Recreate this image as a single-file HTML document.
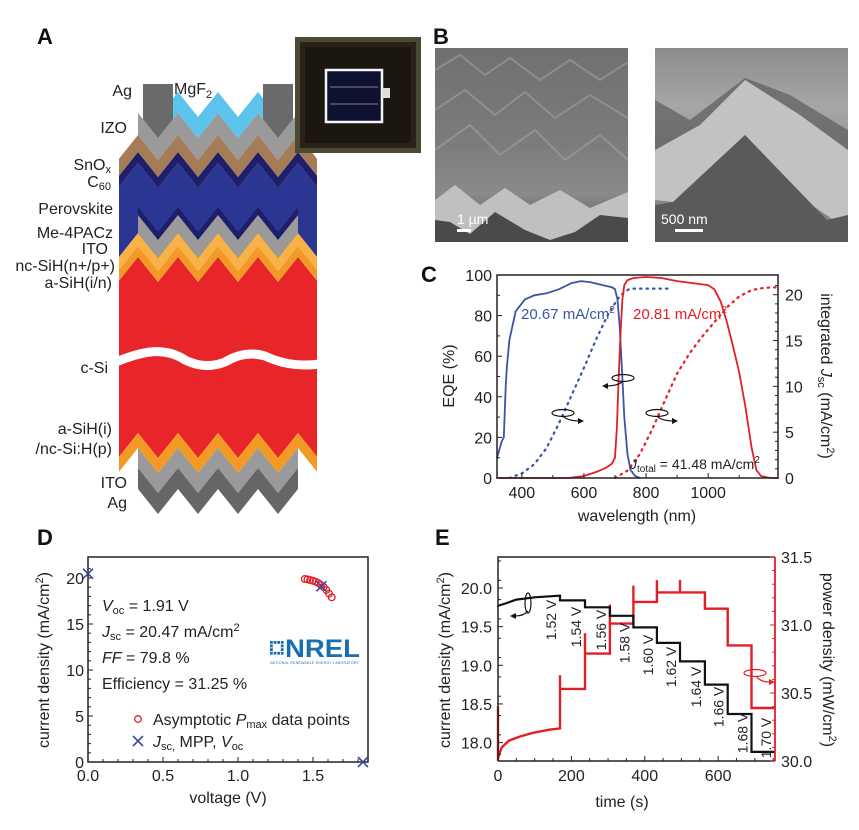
<!DOCTYPE html>
<html><head><meta charset="utf-8"><style>
html,body{margin:0;padding:0;background:#fff}
svg{display:block;font-family:"Liberation Sans",sans-serif}
.lbl{font-size:16px;fill:#222}
.pl{font-size:22px;font-weight:bold;fill:#111}
</style></head><body>
<svg id="fig" width="859" height="830" viewBox="0 0 859 830">
<rect width="859" height="830" fill="#fff"/>
<text class="pl" x="37" y="44">A</text>
<text class="pl" x="433" y="44">B</text>
<text class="pl" x="421" y="282">C</text>
<text class="pl" x="37" y="545">D</text>
<text class="pl" x="435" y="545">E</text>

<g id="stack"></g>
<g id="stacklabels" font-size="16" fill="#222" text-anchor="end">
<text x="132" y="96">Ag</text>
<text x="174" y="94" text-anchor="start">MgF<tspan font-size="11" dy="4">2</tspan></text>
<text x="127" y="133">IZO</text>
<text x="111" y="170">SnO<tspan font-size="11" dy="3">x</tspan></text>
<text x="111" y="187">C<tspan font-size="11" dy="3">60</tspan></text>
<text x="113" y="214">Perovskite</text>
<text x="113" y="238">Me-4PACz</text>
<text x="108" y="254">ITO</text>
<text x="115" y="271">nc-SiH(n+/p+)</text>
<text x="112" y="288">a-SiH(i/n)</text>
<text x="108" y="373">c-Si</text>
<text x="112" y="434">a-SiH(i)</text>
<text x="112" y="454">/nc-Si:H(p)</text>
<text x="127" y="488">ITO</text>
<text x="127" y="508">Ag</text>
</g>
<g>
<rect x="295" y="37" width="126" height="116" fill="#4a4a36"/>
<rect x="300" y="42" width="116" height="106" fill="#2a2216"/>
<rect x="305" y="47" width="106" height="96" fill="#1c1610"/>
<rect x="326" y="70" width="56" height="52" fill="#0e1230" stroke="#f4f4f4" stroke-width="2.5"/>
<line x1="330" y1="87" x2="378" y2="87" stroke="#7d8090" stroke-width="1"/>
<line x1="330" y1="104" x2="378" y2="104" stroke="#7d8090" stroke-width="1"/>
<rect x="382" y="88" width="8" height="10" fill="#ddd"/>
</g>

<defs>
<linearGradient id="sem1" x1="0" y1="0" x2="0" y2="1"><stop offset="0" stop-color="#707070"/><stop offset="0.5" stop-color="#7c7c7c"/><stop offset="0.75" stop-color="#8a8a8a"/><stop offset="1" stop-color="#555"/></linearGradient>
<linearGradient id="sem2" x1="0" y1="0" x2="0" y2="1"><stop offset="0" stop-color="#8c8c8c"/><stop offset="0.3" stop-color="#a6a6a6"/><stop offset="1" stop-color="#7a7a7a"/></linearGradient>
</defs>
<g>
<rect x="435" y="48" width="193" height="194" fill="url(#sem1)"/>
<path d="M435 70 L460 55 L485 75 L510 58 L540 80 L570 60 L600 80 L628 62 M435 110 L465 90 L495 115 L525 92 L555 118 L590 95 L628 118 M435 150 L470 125 L500 155 L535 130 L565 160 L600 135 L628 160" stroke="#a8a8a8" stroke-width="2" fill="none" opacity="0.5"/>
<path d="M435 200 L455 185 L480 205 L505 188 L530 205 L560 190 L590 208 L628 192 L628 242 L435 242 Z" fill="#c0c0c0"/>
<path d="M435 220 L450 222 L470 234 L495 212 L525 230 L550 240 L575 232 L600 215 L628 218 L628 242 L435 242 Z" fill="#4a4a4a"/>
<rect x="457" y="229" width="14" height="3" fill="#fff"/>
<text x="457" y="224" font-size="14" fill="#fff">1 µm</text>
</g>
<g>
<rect x="655" y="48" width="193" height="194" fill="url(#sem2)"/>
<path d="M655 100 L690 120 L745 78 L790 95 L848 130 L848 180 L820 150 L790 135 L745 115 L700 150 L655 160 Z" fill="#5c5c5c" opacity="0.7"/>
<path d="M655 150 L700 125 L745 80 L800 115 L848 150 L848 230 L790 190 L745 135 L673 202 L655 200 Z" fill="#c2c2c2"/>
<path d="M655 205 L673 202 L745 135 L827 220 L848 215 L848 242 L655 242 Z" fill="#5a5a5a"/>
<rect x="675" y="229" width="28" height="3" fill="#fff"/>
<text x="661" y="224" font-size="14" fill="#fff">500 nm</text>
</g>

<g id="panelC"></g>
<g id="panelD"></g>
<g id="panelE"></g>
</svg>
<script>
const NS='http://www.w3.org/2000/svg';
function mk(parent,tag,attrs,text){const e=document.createElementNS(NS,tag);for(const k in attrs)e.setAttribute(k,attrs[k]);if(text!==undefined)e.textContent=text;parent.appendChild(e);return e;}

(function(){
const g=document.getElementById('stack');
function zig(x,base){let d=((x-138)%40+40)%40;let dist=Math.min(d,40-d);return base+25*dist/20;}
function xs(x0,x1){const a=[x0];for(let x=Math.ceil((x0+1)/20)*20-2;x<x1;x+=20){if(x>x0)a.push(x);}a.push(x1);return a;}
function band(x0,x1,t,b,col,name){const X=xs(x0,x1);let p=X.map(x=>x+','+zig(x,t));p=p.concat(X.slice().reverse().map(x=>x+','+zig(x,b)));const e=mk(g,'polygon',{points:p.join(' '),fill:col});

}
band(119,317,257,433,'#e8262a','layer-csi');
band(119,317,163,240,'#2b3592','layer-perovskite');
band(119,317,152,163,'#1e1e6a','layer-c60');
band(119,317,135,152,'#a57c55','layer-snox');
band(138,298,207,215,'#1e1e6a','layer-me4pacz');
band(138,298,215,233,'#9a9a9a','layer-ito-mid');
band(119,317,233,246,'#f9b248','layer-ncsih');
band(119,317,246,257,'#f39a26','layer-asih-in');
band(138,298,113,135,'#9a9a9a','layer-izo');
band(173,263,92,113,'#5cc3ec','layer-mgf2');
band(143,173,60,113,'#6a6a6a','ag-contact-left');
band(263,293,60,113,'#6a6a6a','ag-contact-right');
band(119,317,433,448,'#f39a26','layer-asih-i-ncsi');
band(138,298,448,468,'#9a9a9a','layer-ito-bottom');
band(138,298,468,489,'#666','layer-ag-bottom');
mk(g,'rect',{x:140,y:60,width:36,height:24,fill:'#fff'});
mk(g,'rect',{x:260,y:60,width:36,height:24,fill:'#fff'});
mk(g,'rect',{x:143,y:84,width:30,height:20,rx:4,fill:'#6a6a6a'});
mk(g,'rect',{x:263,y:84,width:30,height:20,rx:4,fill:'#6a6a6a'});
const w=mk(g,'path',{d:'M116 362 Q135 354 150 352 Q170 350 185 360 Q205 370 225 362 Q245 350 265 356 Q290 368 320 364',stroke:'#fff','stroke-width':9,fill:'none'});


})();

const blueWl=[320,335,342,348,352,360,380,410,440,480,520,560,590,620,660,690,700,708,715,722,730,740,750,765,780];
const blueEqe=[10,18,20,45,55,68,82,88,90,91,93,96,97,96.5,95,94,93,88,75,55,30,12,4,1,0];
const blueIntWl=[360,400,440,480,520,560,600,640,680,710,730,745,760,880];
const blueInt=[0,0.5,1.5,3.3,6,9,12,15.2,18,19.6,20.3,20.6,20.67,20.67];
const redWl=[320,550,600,640,670,690,700,706,712,718,724,730,740,760,800,850,900,950,1000,1020,1040,1060,1080,1100,1120,1140,1155,1170,1200,1225];
const redEqe=[0,0,1,3,5,7,10,25,50,72,88,95,97.5,98.5,99,98.5,97,96,95,93,87,77,65,52,35,15,4,1,0,0];
const redIntWl=[700,740,780,820,860,900,940,980,1020,1060,1100,1140,1180,1225];
const redInt=[0,0.8,2.6,5.3,8.4,11.4,13.6,15.4,17,18.6,19.8,20.5,20.75,20.81];
const cXTicks=[400,600,800,1000];
const cYTicks=[0,20,40,60,80,100];
const cY2Ticks=[0,5,10,15,20];

(function(){
const g=document.getElementById('panelC');
const L=497,R=778,T=275,B=478;
const x=v=>L+(v-320)*(R-L)/(1225-320);
const y=v=>B-v*(B-T)/100;
const y2=v=>B-v*(B-T)/22.15;
function line(wl,vals,sc,col,dash,name){const d=wl.map((w,i)=>(i?'L':'M')+x(w).toFixed(1)+' '+sc(vals[i]).toFixed(1)).join(' ');const p=mk(g,'path',{d:d,stroke:col,'stroke-width':dash?2.2:1.8,fill:'none','stroke-dasharray':dash?'1.5 5':'none','stroke-linecap':'round'});

}
line(blueIntWl,blueInt,y2,'#3a55a8',true,'blue-integrated-jsc');
line(redIntWl,redInt,y2,'#e21e26',true,'red-integrated-jsc');
line(blueWl,blueEqe,y,'#3a55a8',false,'blue-eqe-curve');
line(redWl,redEqe,y,'#e21e26',false,'red-eqe-curve');
mk(g,'rect',{x:L,y:T,width:R-L,height:B-T,fill:'none',stroke:'#222','stroke-width':1.5});
cXTicks.forEach(v=>{mk(g,'line',{x1:x(v),x2:x(v),y1:B,y2:B-5,stroke:'#222'});const t=mk(g,'text',{x:x(v),y:498,'text-anchor':'middle',class:'lbl'},v);

});
for(let v=500;v<1225;v+=200)mk(g,'line',{x1:x(v),x2:x(v),y1:B,y2:B-3,stroke:'#222'});
cYTicks.forEach(v=>{mk(g,'line',{x1:L,x2:L+5,y1:y(v),y2:y(v),stroke:'#222'});const t=mk(g,'text',{x:492,y:y(v)+6,'text-anchor':'end',class:'lbl'},v);

});
for(let v=10;v<100;v+=20)mk(g,'line',{x1:L,x2:L+3,y1:y(v),y2:y(v),stroke:'#222'});
cY2Ticks.forEach(v=>{mk(g,'line',{x1:R,x2:R-5,y1:y2(v),y2:y2(v),stroke:'#222'});const t=mk(g,'text',{x:785,y:y2(v)+6,class:'lbl'},v);

});
for(let v=1;v<22;v++)if(v%5)mk(g,'line',{x1:R,x2:R-3,y1:y2(v),y2:y2(v),stroke:'#222'});
let t=mk(g,'text',{x:637,y:521,'text-anchor':'middle',class:'lbl'},'wavelength (nm)');

t=mk(g,'text',{x:0,y:0,'text-anchor':'middle',class:'lbl',transform:'translate(454,376) rotate(-90)'},'EQE (%)');

t=mk(g,'text',{x:0,y:0,'text-anchor':'middle',class:'lbl',transform:'translate(821,376) rotate(90)'});
t.innerHTML='integrated <tspan font-style="italic">J</tspan><tspan font-size="11" dy="3">sc</tspan><tspan dy="-3"> (mA/cm</tspan><tspan font-size="11" dy="-6">2</tspan><tspan dy="6">)</tspan>';

t=mk(g,'text',{x:521,y:319,fill:'#3a55a8','font-size':'15'});t.innerHTML='20.67 mA/cm<tspan font-size="10" dy="-6">2</tspan>';

t=mk(g,'text',{x:633,y:319,fill:'#e21e26','font-size':'15'});t.innerHTML='20.81 mA/cm<tspan font-size="10" dy="-6">2</tspan>';

t=mk(g,'text',{x:630,y:469,fill:'#222','font-size':'14'});t.innerHTML='<tspan font-style="italic">J</tspan><tspan font-size="10" dy="3">total</tspan><tspan dy="-3"> = 41.48 mA/cm</tspan><tspan font-size="10" dy="-6">2</tspan>';

function loop(cx,cy,dir,name){const lg=mk(g,'g',{});


mk(lg,'ellipse',{cx:cx,cy:cy,rx:11,ry:3.5,fill:'none',stroke:'#111','stroke-width':1.2});
const ex=cx+dir*18;mk(lg,'path',{d:`M${cx} ${cy+3} Q${cx+dir*4} ${cy+8} ${ex} ${cy+8}`,stroke:'#111','stroke-width':1.2,fill:'none'});
mk(lg,'polygon',{points:`${ex+dir*3},${cy+8} ${ex-dir*3},${cy+5} ${ex-dir*3},${cy+11}`,fill:'#111'});}
loop(563,413,1,'loop-arrow-blue');loop(623,378,-1,'loop-arrow-center');loop(657,413,1,'loop-arrow-red');
})();

const pmaxV=[1.445,1.463,1.481,1.499,1.517,1.535,1.553,1.571,1.589,1.607,1.625];
const pmaxJ=[19.9,19.85,19.78,19.7,19.6,19.45,19.25,19.02,18.7,18.3,17.9];
const crossV=[0,1.556,1.833];
const crossJ=[20.47,19.1,0];
const dXTicks=[0,0.5,1.0,1.5];
const dYTicks=[0,5,10,15,20];
(function(){
const g=document.getElementById('panelD');
const L=88,R=368,T=557,B=762;
const x=v=>L+v*150;
const y=v=>B-v*9.2;
mk(g,'rect',{x:L,y:T,width:R-L,height:B-T,fill:'none',stroke:'#222','stroke-width':1.5});
dXTicks.forEach(v=>{mk(g,'line',{x1:x(v),x2:x(v),y1:B,y2:B-5,stroke:'#222'});const t=mk(g,'text',{x:x(v),y:781,'text-anchor':'middle',class:'lbl'},v.toFixed(1));
});
for(let v=0.1;v<1.85;v+=0.1)mk(g,'line',{x1:x(v),x2:x(v),y1:B,y2:B-3,stroke:'#222'});
dYTicks.forEach(v=>{mk(g,'line',{x1:L,x2:L+5,y1:y(v),y2:y(v),stroke:'#222'});const t=mk(g,'text',{x:84,y:y(v)+6,'text-anchor':'end',class:'lbl'},v);
});
for(let v=1;v<22;v++)if(v%5)mk(g,'line',{x1:L,x2:L+3,y1:y(v),y2:y(v),stroke:'#222'});
pmaxV.forEach((v,i)=>{const c=mk(g,'circle',{cx:x(v),cy:y(pmaxJ[i]),r:3.3,fill:'none',stroke:'#e21e26','stroke-width':1.3});
});
function cross(cx,cy,name){const p=mk(g,'path',{d:`M${cx-5} ${cy-5}L${cx+5} ${cy+5}M${cx-5} ${cy+5}L${cx+5} ${cy-5}`,stroke:'#3a4aa0','stroke-width':1.6});
}
crossV.forEach((v,i)=>cross(x(v),y(crossJ[i]),'jv-key-point'));
const txt=[['<tspan font-style="italic">V</tspan><tspan font-size="11" dy="3">oc</tspan><tspan dy="-3"> = 1.91 V</tspan>',611,'voc-text'],
['<tspan font-style="italic">J</tspan><tspan font-size="11" dy="3">sc</tspan><tspan dy="-3"> = 20.47 mA/cm</tspan><tspan font-size="11" dy="-6">2</tspan>',637,'jsc-text'],
['<tspan font-style="italic">FF</tspan> = 79.8 %',663,'ff-text'],['Efficiency = 31.25 %',689,'efficiency-text']];
txt.forEach(a=>{const t=mk(g,'text',{x:102,y:a[1],class:'lbl'});t.innerHTML=a[0];
});
mk(g,'circle',{cx:138,cy:719,r:3.3,fill:'none',stroke:'#e21e26','stroke-width':1.3});
let t=mk(g,'text',{x:153,y:725,class:'lbl'});t.innerHTML='Asymptotic <tspan font-style="italic">P</tspan><tspan font-size="11" dy="3">max</tspan><tspan dy="-3"> data points</tspan>';

cross(138,741,'legend-cross-marker');
t=mk(g,'text',{x:153,y:747,class:'lbl'});t.innerHTML='<tspan font-style="italic">J</tspan><tspan font-size="11" dy="3">sc,</tspan><tspan dy="-3"> MPP, </tspan><tspan font-style="italic">V</tspan><tspan font-size="11" dy="3">oc</tspan>';

t=mk(g,'text',{x:228,y:803,'text-anchor':'middle',class:'lbl'},'voltage (V)');

t=mk(g,'text',{x:0,y:0,'text-anchor':'middle',class:'lbl',transform:'translate(49,660) rotate(-90)'});t.innerHTML='current density (mA/cm<tspan font-size="11" dy="-6">2</tspan><tspan dy="6">)</tspan>';

const lg=mk(g,'g',{});
for(let i=0;i<4;i++)for(let j=0;j<4;j++)if(i==0||j==0||i==3||j==3)mk(lg,'rect',{x:270+i*3.6,y:641+j*3.6,width:2.8,height:2.8,fill:'#1a6fb0'});
mk(lg,'text',{x:285,y:657,'font-size':'25','font-weight':'bold',fill:'#1a6fb0',textLength:75,lengthAdjust:'spacingAndGlyphs'},'NREL');
mk(lg,'text',{x:270,y:664,'font-size':'3.5',fill:'#1a6fb0',textLength:89},'NATIONAL RENEWABLE ENERGY LABORATORY');
})();

const stepTimes=[0,169,237,305,369,433,496,564,626,691,755];
const currentLevels=[19.9,19.84,19.75,19.64,19.49,19.29,19.05,18.75,18.37,17.88];
const powerLevels=[30.24,30.53,30.79,31.01,31.17,31.24,31.24,31.12,30.85,30.39];
const powerSpikes=[30.24,30.63,30.94,31.15,31.29,31.33,31.33,31.12,30.85,30.39];
const firstCurT=[0,20,50,100,169];
const firstCurJ=[19.77,19.8,19.85,19.88,19.9];
const firstPowT=[0,10,30,60,100,140,169];
const firstPowP=[30.02,30.1,30.15,30.18,30.21,30.23,30.24];
const stepVoltages=['1.52 V','1.54 V','1.56 V','1.58 V','1.60 V','1.62 V','1.64 V','1.66 V','1.68 V','1.70 V'];
const eXTicks=[0,200,400,600];
const eYTicks=[18.0,18.5,19.0,19.5,20.0];
const eY2Ticks=[30.0,30.5,31.0,31.5];
(function(){
const g=document.getElementById('panelE');
const L=498,R=775,T=557,B=761;
const x=v=>L+v*(R-L)/755;
const y=v=>588-(v-20)*77.3;
const y2=v=>B-(v-30)*136;
let d='M'+x(0)+' '+y2(30.0)+' L'+x(0)+' '+y2(30.4)+' L'+x(0)+' '+y2(firstPowP[0]);
firstPowT.forEach((t,i)=>d+=' L'+x(t).toFixed(1)+' '+y2(firstPowP[i]).toFixed(1));
for(let i=1;i<powerLevels.length;i++){d+=' L'+x(stepTimes[i]).toFixed(1)+' '+y2(powerSpikes[i]).toFixed(1)+' L'+x(stepTimes[i]).toFixed(1)+' '+y2(powerLevels[i]).toFixed(1)+' L'+x(stepTimes[i+1]).toFixed(1)+' '+y2(powerLevels[i]).toFixed(1);}
let p=mk(g,'path',{d:d,stroke:'#e21e26','stroke-width':2.4,fill:'none'});

d='M'+x(firstCurT[0])+' '+y(firstCurJ[0]);
firstCurT.forEach((t,i)=>d+=' L'+x(t).toFixed(1)+' '+y(firstCurJ[i]).toFixed(1));
for(let i=1;i<currentLevels.length;i++){d+=' L'+x(stepTimes[i]).toFixed(1)+' '+y(currentLevels[i]).toFixed(1)+' L'+x(stepTimes[i+1]).toFixed(1)+' '+y(currentLevels[i]).toFixed(1);}
p=mk(g,'path',{d:d,stroke:'#111','stroke-width':2.2,fill:'none'});

mk(g,'path',{d:`M${L} ${B}L${L} ${T}L${R} ${T}`,stroke:'#222','stroke-width':1.5,fill:'none'});
mk(g,'line',{x1:L,x2:R,y1:B,y2:B,stroke:'#222','stroke-width':1.5});
mk(g,'line',{x1:R,x2:R,y1:T,y2:B,stroke:'#e21e26','stroke-width':1.8});
eXTicks.forEach(v=>{mk(g,'line',{x1:x(v),x2:x(v),y1:B,y2:B-5,stroke:'#222'});const t=mk(g,'text',{x:x(v),y:781,'text-anchor':'middle',class:'lbl'},v);
});
for(let v=50;v<755;v+=50)if(v%200)mk(g,'line',{x1:x(v),x2:x(v),y1:B,y2:B-3,stroke:'#222'});
eYTicks.forEach(v=>{mk(g,'line',{x1:L,x2:L+5,y1:y(v),y2:y(v),stroke:'#222'});const t=mk(g,'text',{x:492,y:y(v)+6,'text-anchor':'end',class:'lbl'},v.toFixed(1));
});
for(let v=17.85;v<20.4;v+=0.25)mk(g,'line',{x1:L,x2:L+3,y1:y(v),y2:y(v),stroke:'#222'});
eY2Ticks.forEach(v=>{mk(g,'line',{x1:R,x2:R-5,y1:y2(v),y2:y2(v),stroke:'#e21e26'});const t=mk(g,'text',{x:781,y:y2(v)+6,class:'lbl'},v.toFixed(1));
});
for(let v=30.1;v<31.5;v+=0.1)mk(g,'line',{x1:R,x2:R-3,y1:y2(v),y2:y2(v),stroke:'#e21e26'});
const vy=[620,627,630,643,655,667,687,707,733,738];
stepVoltages.forEach((s,i)=>{const cx=x(stepTimes[i+1])-4;
const t=mk(g,'text',{x:0,y:0,'text-anchor':'middle','font-size':'14',fill:'#222',transform:`translate(${cx.toFixed(1)},${vy[i]}) rotate(-90)`},s);
});
let t=mk(g,'text',{x:622,y:807,'text-anchor':'middle',class:'lbl'},'time (s)');

t=mk(g,'text',{x:0,y:0,'text-anchor':'middle',class:'lbl',transform:'translate(450,660) rotate(-90)'});t.innerHTML='current density (mA/cm<tspan font-size="11" dy="-6">2</tspan><tspan dy="6">)</tspan>';

t=mk(g,'text',{x:0,y:0,'text-anchor':'middle',class:'lbl',transform:'translate(823,660) rotate(90)'});t.innerHTML='power density (mW/cm<tspan font-size="11" dy="-6">2</tspan><tspan dy="6">)</tspan>';

mk(g,'ellipse',{cx:528,cy:603,rx:3,ry:10,fill:'none',stroke:'#111','stroke-width':1.2});
mk(g,'path',{d:'M528 611 Q524 616 515 616',stroke:'#111','stroke-width':1.2,fill:'none'});
mk(g,'polygon',{points:'510,616 516,613 516,619',fill:'#111'});
mk(g,'ellipse',{cx:755,cy:673,rx:11,ry:3.5,fill:'none',stroke:'#e21e26','stroke-width':1.2});
mk(g,'path',{d:'M756 676 Q760 682 770 682',stroke:'#e21e26','stroke-width':1.2,fill:'none'});
mk(g,'polygon',{points:'775,682 769,679 769,685',fill:'#e21e26'});
})();
</script>
</body></html>
